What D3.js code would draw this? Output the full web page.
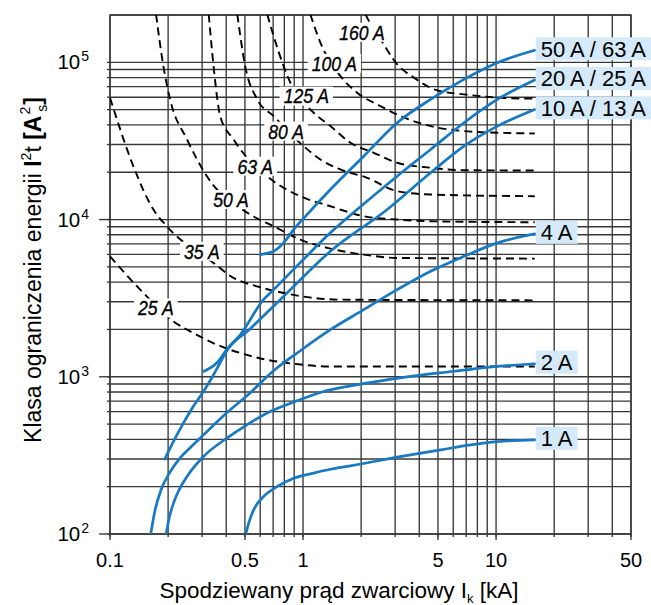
<!DOCTYPE html>
<html><head><meta charset="utf-8">
<script src="https://cdn.jsdelivr.net/npm/d3@7"></script>
<style>body{margin:0;background:#fff}svg{display:block;font-family:"Liberation Sans",Arial,Helvetica,sans-serif}</style>
</head><body><svg id="c" width="651" height="605"></svg>
<script>
// ---- axes ----
const xTickValues = [0.1, 0.5, 1, 5, 10, 50];
const xTickLabels = ["0.1", "0.5", "1", "5", "10", "50"];
const yTickValues = [1e2, 1e3, 1e4, 1e5];
const yTickExponents = ["2", "3", "4", "5"];
const yTickMarked = [1e2, 1e3, 1e4];
const xGridValues = [0.1,0.2,0.3,0.4,0.5,0.6,0.7,0.8,0.9,1,2,3,4,5,6,7,8,9,10,20,30,40,50];
const yGridValues = [100,200,300,400,500,600,700,800,900,1000,2000,3000,4000,5000,6000,7000,8000,9000,
  10000,20000,30000,40000,50000,60000,70000,80000,90000,100000,200000];

// ---- MCB let-through curves (blue) [kA, A²s] ----
const mcb_50_63 = [[0.600,5980],[0.704,6280],[0.793,7100],[0.894,8640],[1.049,10760],[1.386,15520],[2.063,25300],[3.074,41300],[4.58,58100],[6.82,77950],[10.16,99500],[15.86,119300]];
const mcb_20_25 = [[0.305,1081],[0.358,1228],[0.405,1508],[0.473,1851],[0.624,3094],[0.704,3583],[0.968,5322],[1.386,8229],[1.906,11580],[3.074,18870],[4.58,27920],[6.82,41300],[10.16,58100],[15.86,77160]];
const mcb_10_13 = [[0.192,299],[0.213,387],[0.240,507],[0.270,647],[0.305,806],[0.344,1030],[0.372,1228],[0.403,1464],[0.533,2021],[0.762,3094],[1.386,6281],[2.73,11580],[4.58,19840],[6.82,29310],[10.16,39300],[15.86,50200]];
const mcb_4 = [[0.1626,100],[0.1712,142],[0.1839,191],[0.2048,248],[0.2309,305],[0.2665,364],[0.305,427],[0.403,590],[0.512,757],[0.704,1092],[0.968,1464],[1.386,1992],[2.063,2672],[3.074,3581],[4.58,4686],[6.82,5836],[10.16,7106],[15.86,8110]];
const mcb_2 = [[0.1953,100],[0.2025,126],[0.2132,157],[0.228,191],[0.2506,232],[0.305,311],[0.403,407],[0.512,495],[0.676,601],[0.931,703],[1.279,806],[1.76,876],[3.074,978],[6.03,1084],[9.01,1149],[15.86,1210]];
const mcb_1 = [[0.505,100],[0.5225,117],[0.5543,142],[0.624,173],[0.733,200],[0.894,226],[1.135,244],[1.386,258],[1.76,271],[3.074,308],[5.16,343],[7.38,369],[10.16,387],[15.86,397]];
const mcbNames = ["50 A / 63 A", "20 A / 25 A", "10 A / 13 A", "4 A", "2 A", "1 A"];
const mcbSeries = [mcb_50_63, mcb_20_25, mcb_10_13, mcb_4, mcb_2, mcb_1];

// ---- fuse curves (dashed) [kA, A²s] ----
const fuse_160 = [[2.105,202000],[2.3,165000],[2.518,140100],[3.074,97100],[3.75,79900],[4.96,66300],[6.82,62540],[10.16,59600],[15.86,58730]];
const fuse_100 = [[1.091,202000],[1.23,133500],[1.562,81770],[1.906,64100],[2.518,52700],[3.198,45500],[4.58,39300],[6.82,36510],[10.16,35660],[15.86,35300]];
const fuse_125 = [[0.6527,202000],[0.7038,147100],[0.793,94700],[0.8766,70630],[1.135,47820],[1.386,39300],[1.76,30800],[2.325,26590],[3.074,22970],[4.58,21350],[6.82,20600],[15.86,20510]];
const fuse_80 = [[0.4566,202000],[0.5017,94300],[0.5789,58100],[0.7038,45500],[1.007,29300],[1.23,24110],[1.562,20820],[2.148,18440],[3.074,15150],[4.58,14430],[15.86,14075]];
const fuse_63 = [[0.3246,202000],[0.3439,94700],[0.3723,45500],[0.4365,32320],[0.7038,17540],[0.968,14070],[1.386,12150],[2.063,10500],[3.074,10000],[4.58,9754],[15.86,9612]];
const fuse_50 = [[0.1732,202000],[0.189,94700],[0.2048,58100],[0.2506,32320],[0.3177,18870],[0.533,10760],[0.7038,9064],[0.968,7458],[1.386,6536],[2.063,5984],[3.074,5700],[15.86,5644]];
const fuse_35 = [[0.1,59570],[0.1321,21850],[0.1678,11580],[0.1969,9064],[0.3436,5300],[0.4365,4254],[0.5769,3761],[0.793,3413],[1.135,3172],[1.562,3094],[15.86,3063]];
const fuse_25 = [[0.1,5836],[0.1489,3413],[0.2132,2250],[0.2705,1898],[0.3584,1599],[0.4727,1416],[0.6504,1283],[0.894,1210],[1.386,1163],[15.86,1163]];
const fuseSeries = [fuse_160, fuse_100, fuse_125, fuse_80, fuse_63, fuse_50, fuse_35, fuse_25];
const fuseLabelNames = ["160 A", "100 A", "125 A", "80 A", "63 A", "50 A", "35 A", "25 A"];
const fuseLabelX = [2.019, 1.453, 1.04, 0.8171, 0.5656, 0.4232, 0.2991, 0.1728];
const fuseLabelY = [155300, 98540, 61000, 36510, 21850, 13410, 6283, 2739];

const xTitle = "Spodziewany prąd zwarciowy I";
const yTitle = "Klasa ograniczenia energii ";

// ---- drawing ----
const svg = d3.select("#c");
const x = d3.scaleLog().domain([0.1, 50]).range([110, 631]);
const y = d3.scaleLog().domain([100, 2e5]).range([534, 15]);
const [x0, x1] = x.range(), [y0, y1] = y.range();
const gridColor = "#383838";

svg.append("defs").append("clipPath").attr("id", "plot")
  .append("rect").attr("x", x0).attr("y", y1).attr("width", x1 - x0).attr("height", y0 - y1);

const grid = svg.append("g").attr("stroke", gridColor).attr("stroke-width", 1.35);
grid.selectAll(".vg").data(xGridValues).join("line")
  .attr("x1", d => x(d)).attr("x2", d => x(d)).attr("y1", y1).attr("y2", y0);
grid.selectAll(".hg").data(yGridValues).join("line")
  .attr("y1", d => y(d)).attr("y2", d => y(d)).attr("x1", x0).attr("x2", x1);
// minor ticks
grid.selectAll(".mx").data(xGridValues).join("line")
  .attr("x1", d => x(d)).attr("x2", d => x(d)).attr("y1", y0).attr("y2", y0 + 3);
grid.selectAll(".my").data(yGridValues.filter(v => v < 2e5)).join("line")
  .attr("y1", d => y(d)).attr("y2", d => y(d)).attr("x1", x0 - 3).attr("x2", x0);
// major ticks
grid.selectAll(".Mx").data(xTickValues).join("line")
  .attr("x1", d => x(d)).attr("x2", d => x(d)).attr("y1", y0).attr("y2", y0 + 6);
grid.selectAll(".My").data(yTickMarked).join("line")
  .attr("y1", d => y(d)).attr("y2", d => y(d)).attr("x1", x0 - 11).attr("x2", x0);

// tick labels
svg.append("g").selectAll("text").data(xTickValues).join("text")
  .attr("x", d => x(d)).attr("y", 567).attr("text-anchor", "middle")
  .attr("font-size", 20).attr("fill", "#000").text((d, i) => xTickLabels[i]);
const yl = svg.append("g").selectAll("text").data(yTickValues).join("text")
  .attr("x", 89).attr("y", d => y(d) + 7).attr("text-anchor", "end")
  .attr("font-size", 20.5).attr("fill", "#000");
yl.append("tspan").text("10");
yl.append("tspan").attr("font-size", 14).attr("dx", 1).attr("dy", -8).text((d, i) => yTickExponents[i]);

// axis titles
const xt = svg.append("text").attr("x", 339).attr("y", 598).attr("text-anchor", "middle")
  .attr("font-size", 22.5).attr("fill", "#000");
xt.append("tspan").text(xTitle);
xt.append("tspan").attr("font-size", 13).attr("dy", 5).attr("fill", "#000").text("k");
xt.append("tspan").attr("dy", -5).text(" [kA]");

const yt = svg.append("text").attr("transform", "translate(41,270) rotate(-90)")
  .attr("text-anchor", "middle").attr("font-size", 23).attr("fill", "#000");
yt.append("tspan").text(yTitle);
yt.append("tspan").attr("font-weight", "bold").text("I");
yt.append("tspan").attr("font-size", 14).attr("dy", -10).text("2");
yt.append("tspan").attr("dy", 10).text("t ");
yt.append("tspan").attr("font-weight", "bold").text("[A");
yt.append("tspan").attr("font-size", 14).attr("dx", 1).attr("dy", -11).text("2");
yt.append("tspan").attr("font-size", 14).attr("dx", -5).attr("dy", 17).text("s");
yt.append("tspan").attr("font-weight", "bold").attr("dy", -6).text("]");

// frame
svg.append("rect").attr("x", x0).attr("y", y1).attr("width", x1 - x0).attr("height", y0 - y1)
  .attr("fill", "none").attr("stroke", gridColor).attr("stroke-width", 1.4);

const line = d3.line().x(d => x(d[0])).y(d => y(d[1])).curve(d3.curveMonotoneX);

// dashed fuse curves
const plot = svg.append("g").attr("clip-path", "url(#plot)");
plot.selectAll(".fuse").data(fuseSeries).join("path")
  .attr("d", line).attr("fill", "none").attr("stroke", "#000")
  .attr("stroke-width", 1.9).attr("stroke-dasharray", "8,5");

// fuse labels with white boxes
const fl = svg.append("g").selectAll("g").data(fuseLabelNames).join("g")
  .attr("transform", (d, i) => `translate(${x(fuseLabelX[i])},${y(fuseLabelY[i])})`);
fl.append("rect").attr("fill", "#fff");
fl.append("text").attr("text-anchor", "middle").attr("dy", "0.36em")
  .attr("transform", "scale(0.86,1)")
  .attr("font-size", 20.5).attr("font-style", "italic").attr("fill", "#000")
  .attr("stroke", "#000").attr("stroke-width", 0.35).text(d => d);
fl.each(function () {
  const g = d3.select(this);
  const w = g.select("text").node().getComputedTextLength() * 0.86;
  g.select("rect").attr("x", -w / 2 - 4).attr("y", -9.5).attr("width", w + 8).attr("height", 19);
});

// blue curves
const blue = "#1679c2";
plot.selectAll(".mcb").data(mcbSeries).join("path")
  .attr("d", line).attr("fill", "none").attr("stroke", blue).attr("stroke-width", 2.7)
  .attr("stroke-linecap", "round");

// right labels
const rl = svg.append("g").selectAll("g").data(mcbNames).join("g")
  .attr("transform", (d, i) => { const p = mcbSeries[i][mcbSeries[i].length - 1]; return `translate(${x(p[0]) + 1},${y(p[1]) - 1.5})`; });
rl.append("rect").attr("fill", "#d4e9f9");
rl.append("text").attr("x", 5).attr("dy", "0.36em").attr("font-size", 22).attr("fill", "#000").text(d => d);
rl.each(function () {
  const g = d3.select(this);
  const w = g.select("text").node().getComputedTextLength();
  g.select("rect").attr("x", 0).attr("y", -11.5).attr("width", w + 10).attr("height", 23);
});
</script></body></html>
